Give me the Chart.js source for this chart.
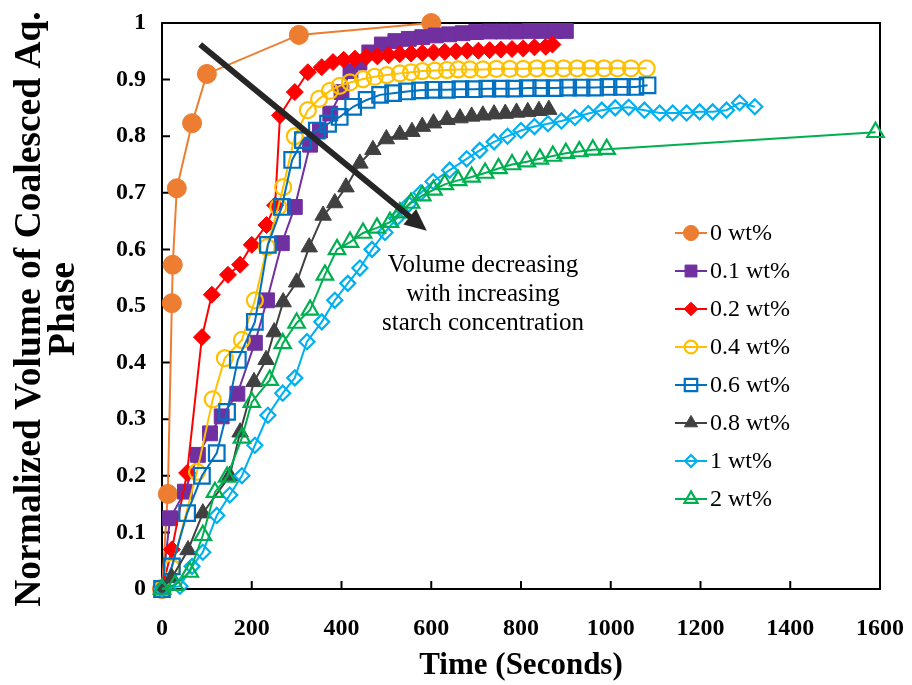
<!DOCTYPE html>
<html><head><meta charset="utf-8">
<script src="https://cdn.jsdelivr.net/npm/chart.js@4/dist/chart.umd.min.js"></script>
<style>html,body{margin:0;padding:0;background:#fff;}canvas{display:block;}</style>
</head><body>
<canvas id="c" width="912" height="685"></canvas>
<script>
// ---------- data ----------
const seriesNames = ['0 wt%','0.1 wt%','0.2 wt%','0.4 wt%','0.6 wt%','0.8 wt%','1 wt%','2 wt%'];
const xTickValues = [0,200,400,600,800,1000,1200,1400,1600];
const yTickLabels = ['0','0.1','0.2','0.3','0.4','0.5','0.6','0.7','0.8','0.9','1'];

const time0 = [0, 13, 22, 24, 33, 67, 100, 305, 600];
const vol0  = [0, 0.168, 0.505, 0.573, 0.708, 0.823, 0.91, 0.979, 1.0];

const time01 = [0, 18, 51, 80, 107, 133, 168, 207, 234, 267, 296, 330, 352, 375, 400, 420, 440, 462, 490, 520, 550, 580, 610, 640, 670, 700, 730, 760, 790, 820, 850, 875, 900];
const vol01  = [0, 0.125, 0.172, 0.237, 0.275, 0.305, 0.345, 0.435, 0.51, 0.611, 0.675, 0.785, 0.81, 0.84, 0.878, 0.915, 0.93, 0.948, 0.962, 0.968, 0.972, 0.975, 0.978, 0.98, 0.982, 0.984, 0.985, 0.985, 0.985, 0.986, 0.986, 0.986, 0.986];

const time02 = [0, 22, 56, 89, 111, 147, 174, 200, 233, 252, 263, 296, 325, 356, 381, 405, 430, 455, 480, 505, 530, 555, 580, 605, 630, 655, 680, 705, 730, 755, 780, 805, 830, 855, 870];
const vol02  = [0, 0.07, 0.205, 0.445, 0.52, 0.555, 0.573, 0.608, 0.643, 0.678, 0.837, 0.878, 0.913, 0.922, 0.931, 0.935, 0.937, 0.94, 0.941, 0.943, 0.945, 0.946, 0.947, 0.948, 0.949, 0.95, 0.951, 0.951, 0.952, 0.953, 0.954, 0.955, 0.957, 0.958, 0.962];

const time04 = [0, 22, 78, 113, 140, 178, 207, 234, 259, 270, 296, 325, 350, 374, 396, 419, 448, 474, 501, 530, 555, 580, 608, 635, 660, 686, 715, 745, 775, 805, 835, 865, 895, 925, 955, 985, 1015, 1045, 1080];
const vol04  = [0, 0.037, 0.207, 0.335, 0.408, 0.44, 0.51, 0.604, 0.675, 0.71, 0.8, 0.846, 0.866, 0.88, 0.889, 0.895, 0.901, 0.905, 0.908, 0.911, 0.913, 0.915, 0.916, 0.917, 0.918, 0.918, 0.918, 0.919, 0.919, 0.919, 0.92, 0.92, 0.92, 0.92, 0.92, 0.92, 0.92, 0.92, 0.92];

const time06 = [0, 22, 56, 89, 122, 145, 169, 207, 236, 267, 290, 314, 345, 370, 396, 426, 456, 486, 515, 546, 575, 605, 635, 665, 695, 725, 755, 785, 815, 845, 875, 905, 935, 965, 995, 1025, 1055, 1082];
const vol06  = [0, 0.04, 0.134, 0.2, 0.24, 0.313, 0.405, 0.472, 0.608, 0.675, 0.758, 0.793, 0.81, 0.822, 0.834, 0.852, 0.864, 0.873, 0.876, 0.879, 0.881, 0.882, 0.882, 0.883, 0.883, 0.884, 0.884, 0.884, 0.885, 0.885, 0.885, 0.886, 0.886, 0.886, 0.887, 0.887, 0.887, 0.89];

const time08 = [0, 22, 58, 91, 151, 174, 205, 232, 250, 270, 300, 328, 359, 385, 410, 441, 470, 500, 530, 557, 580, 605, 635, 664, 690, 715, 740, 765, 790, 815, 840, 862];
const vol08  = [0, 0.02, 0.069, 0.134, 0.2, 0.277, 0.366, 0.405, 0.454, 0.507, 0.542, 0.604, 0.66, 0.682, 0.71, 0.752, 0.776, 0.795, 0.803, 0.808, 0.817, 0.823, 0.829, 0.832, 0.835, 0.837, 0.839, 0.84, 0.842, 0.843, 0.845, 0.847];

const time1 = [0, 40, 67, 91, 122, 151, 178, 207, 236, 269, 296, 323, 356, 385, 414, 441, 468, 497, 523, 550, 577, 604, 641, 679, 708, 740, 770, 800, 830, 860, 890, 920, 950, 980, 1010, 1040, 1075, 1109, 1138, 1169, 1198, 1227, 1258, 1287, 1321];
const vol1  = [0, 0.005, 0.04, 0.065, 0.13, 0.166, 0.2, 0.254, 0.307, 0.346, 0.373, 0.437, 0.472, 0.51, 0.54, 0.567, 0.6, 0.63, 0.655, 0.68, 0.7, 0.72, 0.74, 0.76, 0.775, 0.79, 0.8, 0.81, 0.817, 0.822, 0.827, 0.833, 0.84, 0.846, 0.85, 0.851, 0.846, 0.841, 0.841, 0.841, 0.843, 0.843, 0.846, 0.859, 0.852];

const time2 = [0, 29, 62, 91, 118, 145, 178, 200, 240, 269, 300, 330, 363, 390, 419, 448, 479, 508, 530, 555, 580, 605, 630, 660, 690, 720, 750, 780, 813, 842, 871, 900, 930, 960, 991, 1590];
const vol2  = [0, 0.007, 0.03, 0.095, 0.171, 0.198, 0.267, 0.33, 0.369, 0.434, 0.47, 0.493, 0.555, 0.6, 0.613, 0.629, 0.638, 0.648, 0.665, 0.682, 0.695, 0.705, 0.715, 0.722, 0.728, 0.735, 0.743, 0.75, 0.755, 0.76, 0.765, 0.77, 0.773, 0.776, 0.777, 0.807];

const annotationLines = ['Volume decreasing','with increasing','starch concentration'];
const yTitleLines = ['Normalized Volume of Coalesced Aq.','Phase'];
const xTitle = 'Time (Seconds)';

// ---------- styles ----------
const times = [time0,time01,time02,time04,time06,time08,time1,time2];
const vols  = [vol0,vol01,vol02,vol04,vol06,vol08,vol1,vol2];
const styles = [
  {color:'#ED7D31', shape:'circle',   r:9.5, filled:true},
  {color:'#7030A0', shape:'rect',     r:10.5, filled:true},
  {color:'#FF0000', shape:'rectRot',  r:8.5, filled:true},
  {color:'#FFC000', shape:'circle',   r:8,   filled:false},
  {color:'#0070C0', shape:'rect',     r:11,  filled:false},
  {color:'#404040', shape:'triangle', r:9.5, filled:true},
  {color:'#00B0F0', shape:'rectRot',  r:7.5, filled:false},
  {color:'#00B050', shape:'triangle', r:9.5, filled:false}
];
const SERIF = "'Liberation Serif','Times New Roman',serif";

const datasets = seriesNames.map((name,i)=>({
  label:name,
  data: times[i].map((t,j)=>({x:t, y:vols[i][j]})),
  borderColor: styles[i].color,
  backgroundColor: styles[i].color,
  borderWidth: 2,
  pointStyle: styles[i].shape,
  pointRadius: styles[i].r,
  pointHoverRadius: styles[i].r,
  pointBackgroundColor: styles[i].filled ? styles[i].color : 'rgba(0,0,0,0)',
  pointBorderColor: styles[i].color,
  pointBorderWidth: styles[i].filled ? 1 : 2.2,
  tension: 0,
  clip: false,
  order: -i
}));

function drawMarker(ctx, st, x, y, r){
  ctx.save();
  ctx.beginPath();
  if (st.shape==='circle'){ ctx.arc(x,y,r,0,Math.PI*2); }
  else if (st.shape==='rect'){ const s=r*Math.SQRT1_2; ctx.rect(x-s,y-s,2*s,2*s); }
  else if (st.shape==='rectRot'){ ctx.moveTo(x-r,y); ctx.lineTo(x,y-r); ctx.lineTo(x+r,y); ctx.lineTo(x,y+r); ctx.closePath(); }
  else if (st.shape==='triangle'){
    for (let k=0;k<3;k++){ const a=k*2*Math.PI/3; const px=x+Math.sin(a)*r, py=y-Math.cos(a)*r; if(k===0)ctx.moveTo(px,py); else ctx.lineTo(px,py);} ctx.closePath(); }
  if (st.filled){ ctx.fillStyle=st.color; ctx.fill(); ctx.lineWidth=1; ctx.strokeStyle=st.color; ctx.stroke(); }
  else { ctx.lineWidth=2.2; ctx.strokeStyle=st.color; ctx.stroke(); }
  ctx.restore();
}

const framePlugin = {
  id:'frame',
  beforeDatasetsDraw(chart){
    const {ctx, chartArea:a, scales} = chart;
    ctx.save();
    ctx.strokeStyle='#000'; ctx.lineWidth=2;
    ctx.beginPath();
    ctx.moveTo(a.left,a.top); ctx.lineTo(a.right,a.top); ctx.lineTo(a.right,a.bottom);
    ctx.stroke();
    ctx.beginPath();
    scales.y.ticks.forEach(t=>{ const py=scales.y.getPixelForValue(t.value); ctx.moveTo(a.left,py); ctx.lineTo(a.left+8,py); });
    scales.x.ticks.forEach(t=>{ const px=scales.x.getPixelForValue(t.value); ctx.moveTo(px,a.bottom); ctx.lineTo(px,a.bottom-8); });
    ctx.stroke();
    ctx.restore();
  },
  afterDatasetsDraw(chart){
    const {ctx, scales} = chart;
    // arrow
    const x0=scales.x.getPixelForValue(85), y0=scales.y.getPixelForValue(0.962);
    const x1=scales.x.getPixelForValue(590), y1=scales.y.getPixelForValue(0.633);
    const dx=x1-x0, dy=y1-y0, L=Math.hypot(dx,dy), ux=dx/L, uy=dy/L;
    const head=22, hw=10;
    ctx.save();
    ctx.strokeStyle='#262626'; ctx.fillStyle='#262626'; ctx.lineWidth=6;
    ctx.beginPath(); ctx.moveTo(x0,y0); ctx.lineTo(x1-ux*head*0.8,y1-uy*head*0.8); ctx.stroke();
    ctx.beginPath();
    ctx.moveTo(x1,y1);
    ctx.lineTo(x1-ux*head-uy*hw, y1-uy*head+ux*hw);
    ctx.lineTo(x1-ux*head+uy*hw, y1-uy*head-ux*hw);
    ctx.closePath(); ctx.fill();
    // annotation text
    ctx.fillStyle='#000'; ctx.font='25px '+SERIF; ctx.textAlign='center'; ctx.textBaseline='middle';
    annotationLines.forEach((s,i)=>ctx.fillText(s,483,265+i*29));
    ctx.restore();
  },
  afterDraw(chart){
    const {ctx} = chart;
    ctx.save();
    // legend
    ctx.font='24px '+SERIF; ctx.textAlign='left'; ctx.textBaseline='middle'; ctx.fillStyle='#000';
    seriesNames.forEach((n,i)=>{
      const y=233+i*38;
      ctx.strokeStyle=styles[i].color; ctx.lineWidth=2;
      ctx.beginPath(); ctx.moveTo(675,y); ctx.lineTo(707,y); ctx.stroke();
      drawMarker(ctx, styles[i], 691, y, styles[i].r*0.8);
      ctx.fillStyle='#000';
      ctx.fillText(n,710,y+1);
    });
    // y title
    ctx.font='bold 37.5px '+SERIF; ctx.textAlign='center'; ctx.textBaseline='middle';
    yTitleLines.forEach((s,i)=>{
      ctx.save(); ctx.translate(30+i*34,309); ctx.rotate(-Math.PI/2); ctx.fillText(s,0,0); ctx.restore();
    });
    ctx.restore();
  }
};

new Chart(document.getElementById('c'), {
  type:'line',
  data:{datasets},
  options:{
    responsive:false, animation:false,
    layout:{padding:{left:0,right:32,top:23,bottom:0}},
    plugins:{legend:{display:false}, tooltip:{enabled:false}},
    scales:{
      x:{type:'linear', min:0, max:1600,
        afterBuildTicks(s){ s.ticks = xTickValues.map(v=>({value:v})); },
        ticks:{color:'#000', padding:17, maxRotation:0, autoSkip:false,
          font:{family:SERIF, size:24, weight:'bold'}, callback:(v)=>String(v)},
        grid:{display:false}, border:{display:true,color:'#000',width:2},
        title:{display:true, text:xTitle, color:'#000', padding:{top:0,bottom:0},
          font:{family:SERIF, size:31, weight:'bold'}},
        afterFit(s){ s.height=96; s.paddingLeft=0; s.paddingRight=0; }
      },
      y:{type:'linear', min:0, max:1,
        afterBuildTicks(s){ s.ticks = yTickLabels.map((l,i)=>({value:i/10})); },
        ticks:{color:'#000', padding:8, autoSkip:false,
          font:{family:SERIF, size:24, weight:'bold'}, callback:(v)=>yTickLabels[Math.round(v*10)]},
        grid:{display:false}, border:{display:true,color:'#000',width:2},
        afterFit(s){ s.width=162; s.paddingTop=0; s.paddingBottom=0; }
      }
    }
  },
  plugins:[framePlugin]
});
</script>
</body></html>
